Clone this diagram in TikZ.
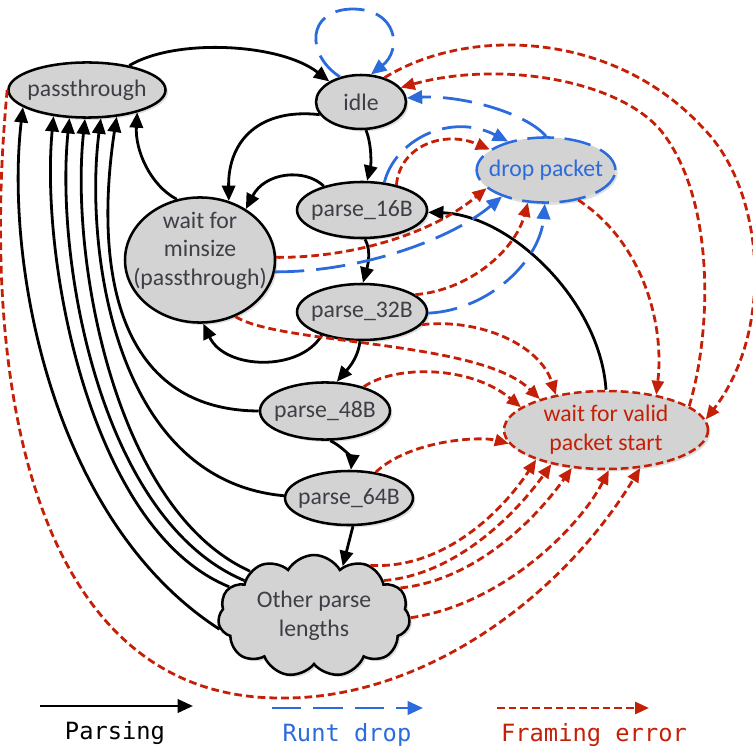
\documentclass[tikz,border=0pt]{standalone}
\usepackage{fontspec}
\setmainfont{Carlito}
\newfontfamily\legendfont{DejaVu Sans Mono}
\usetikzlibrary{shapes.geometric,shapes.symbols,arrows.meta,shadows}
\definecolor{fered}{HTML}{C42008}
\definecolor{rdblue}{HTML}{2C6BDB}
\definecolor{nodegray}{HTML}{D3D3D3}
\definecolor{txtgray}{HTML}{3E3E46}
\begin{document}
\begin{tikzpicture}[x=0.75pt,y=-0.75pt,
  shad/.style={drop shadow={shadow xshift=1.8pt,shadow yshift=-1.8pt,opacity=0.25}},
  state/.style={ellipse, draw=black, line width=1.9pt, fill=nodegray, inner sep=0pt, shad},
  lbl/.style={text=txtgray, font=\fontsize{17.8pt}{21.5pt}\selectfont, align=center, inner sep=0pt},
  legtxt/.style={font=\legendfont\fontsize{17.8pt}{21pt}\selectfont, inner sep=0pt},
  parse/.style={draw=black, line width=2.1pt, -{Triangle[length=11.5pt,width=10pt]}},
  runt/.style={draw=rdblue, line width=2.1pt, dash pattern=on 22pt off 9pt, -{Triangle[length=11.5pt,width=10pt]}},
  ferr/.style={draw=fered, line width=2.1pt, dash pattern=on 5.8pt off 3pt, -{Triangle[length=10.5pt,width=9pt]}}
]
\useasboundingbox (0,0) rectangle (752,755);

% ---------- states ----------
\node[state, minimum width=117.8pt, minimum height=41.3pt, label={[lbl]center:passthrough}] (pass) at (87,90) {};
\node[state, minimum width=67.5pt, minimum height=40.5pt, label={[lbl]center:idle}] (idle) at (361,102) {};
\node[state, draw=rdblue, dash pattern=on 20pt off 8pt, minimum width=104pt, minimum height=48.8pt, label={[lbl, text=rdblue]center:drop packet}] (drop) at (546,170) {};
\node[state, minimum width=112.5pt, minimum height=93.8pt, label={[lbl, yshift=7pt]center:wait for\\minsize\\(passthrough)}] (wmin) at (200,260) {};
\node[state, minimum width=97.5pt, minimum height=42pt, label={[lbl]center:parse\_16B}] (p16) at (362,210) {};
\node[state, minimum width=97.5pt, minimum height=42pt, label={[lbl]center:parse\_32B}] (p32) at (362,312) {};
\node[state, minimum width=97.5pt, minimum height=42.8pt, label={[lbl]center:parse\_48B}] (p48) at (325,411) {};
\node[state, minimum width=96pt, minimum height=40.5pt, label={[lbl]center:parse\_64B}] (p64) at (349,498) {};
\node[cloud, cloud puffs=11, cloud puff arc=120, aspect=1.55, draw=black, line width=1.9pt, fill=nodegray, inner sep=0pt, shad, minimum width=144pt, minimum height=91.5pt, label={[lbl]center:Other parse\\lengths}] (cloud) at (314,616) {};
\node[state, draw=fered, dash pattern=on 5.8pt off 3pt, minimum width=153pt, minimum height=58.5pt, label={[lbl, text=fered]center:wait for valid\\packet start}] (wvalid) at (606,430) {};

% ---------- parsing (black) ----------
\draw[parse] (pass.30) .. controls (175,38) and (280,43) .. (idle.147);
\draw[parse] (idle.-80) .. controls (372,145) and (371,165) .. (p16.80);
\draw[parse] (idle.197) .. controls (260,108) and (228,140) .. (wmin.64);
\draw[parse] (p16.148) .. controls (305,168) and (265,172) .. (wmin.48);
\draw[parse] (p16.-84) .. controls (372,252) and (367,268) .. (p32.88);
\draw[parse] (p32.210) .. controls (300,372) and (225,370) .. (wmin.-87);
\draw[parse] (p32.-94) .. controls (358,360) and (345,372) .. (p48.68);
\draw[parse] (p48.-80) .. controls (345,448) and (352,460) .. (p64.86);
\draw[parse] (p64.-82) -- (cloud.60);
\draw[parse] (wmin.111) .. controls (150,185) and (135,150) .. (pass.-24);
\draw[parse] (wvalid.90) .. controls (600,300) and (510,215) .. (p16.-2);
\draw[parse] (p48.180) .. controls (95,410) and (100,225) .. (pass.-42);
\draw[parse] (p64.178) .. controls (110,480) and (85,240) .. (pass.-64);
\draw[parse] (cloud.188) .. controls (50,520) and (5,260) .. (pass.-165);
\draw[parse] (cloud.161) .. controls (90,530) and (40,260) .. (pass.-142);
\draw[parse] (cloud.153) .. controls (100,520) and (55,260) .. (pass.-122);
\draw[parse] (cloud.145) .. controls (115,510) and (70,260) .. (pass.-94);

% ---------- framing error (red) ----------
\coordinate (pbot) at (280,698);
\draw[ferr] (pass.180) .. controls (-22,400) and (40,698) .. (pbot) .. controls (420,700) and (560,600) .. (wvalid.-48);
\draw[ferr] (cloud.42) .. controls (440,570) and (500,515) .. (wvalid.-157);
\draw[ferr] (cloud.27) .. controls (455,575) and (515,515) .. (wvalid.-148);
\draw[ferr] (cloud.18) .. controls (475,580) and (535,520) .. (wvalid.-132);
\draw[ferr] (cloud.-1) .. controls (500,605) and (578,530) .. (wvalid.-86);
\draw[ferr] (p64.44) .. controls (410,440) and (480,436) .. (wvalid.-172);
\draw[ferr] (p48.32) .. controls (395,365) and (470,365) .. (wvalid.165);
\draw[ferr] (wmin.-58) .. controls (280,345) and (480,340) .. (wvalid.155);
\draw[ferr] (p32.-12) .. controls (480,318) and (540,345) .. (wvalid.145);
\draw[ferr] (p32.18) .. controls (470,290) and (515,250) .. (drop.-119);
\draw[ferr] (wmin.2) .. controls (350,258) and (430,235) .. (drop.-163);
\draw[ferr] (p16.36) .. controls (400,145) and (445,130) .. (drop.160);
\coordinate (rtop) at (703,128);
\draw[ferr] (idle.46) .. controls (470,25) and (615,32) .. (rtop) .. controls (765,190) and (775,330) .. (wvalid.6);
\coordinate (rmid) at (662,132);
\draw[ferr] (wvalid.16) .. controls (712,330) and (715,200) .. (rmid) .. controls (620,80) and (500,60) .. (idle.20);
\draw[ferr] (drop.-43) .. controls (640,240) and (665,320) .. (wvalid.35);

% ---------- runt drop (blue) ----------
\coordinate (looptop) at (352,9);
\draw[runt] (idle.130) .. controls (306,55) and (306,10) .. (looptop) .. controls (398,9) and (402,50) .. (idle.70);
\draw[runt] (drop.90) .. controls (525,112) and (460,95) .. (idle.5);
\draw[runt] (p16.51) .. controls (395,140) and (450,112) .. (drop.143);
\draw[runt] (wmin.-9) .. controls (360,272) and (450,240) .. (drop.-149);
\draw[runt] (p32.-1) .. controls (490,310) and (540,260) .. (drop.-92);

% ---------- legend ----------
\coordinate (lpa) at (40,706); \coordinate (lpb) at (193,706);
\draw[parse] (lpa) -- (lpb);
\node[legtxt] (lpt) at (115,733) {Parsing};
\coordinate (lra) at (272,708); \coordinate (lrb) at (423,708);
\draw[runt] (lra) -- (lrb);
\node[legtxt, text=rdblue] (lrt) at (347,735) {Runt drop};
\coordinate (lfa) at (497,708); \coordinate (lfb) at (649,708);
\draw[ferr] (lfa) -- (lfb);
\node[legtxt, text=fered] (lft) at (594,735) {Framing error};
\end{tikzpicture}
\end{document}
